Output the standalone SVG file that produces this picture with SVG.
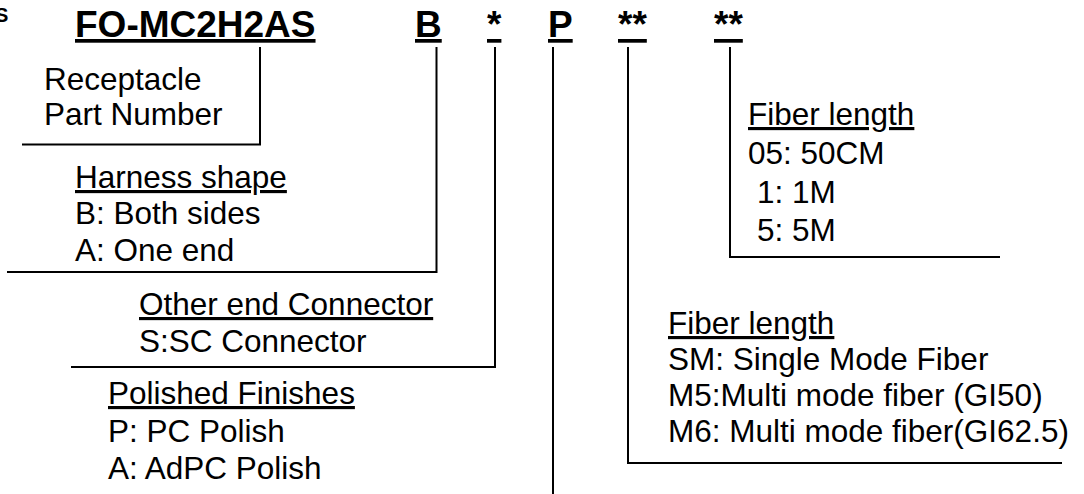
<svg xmlns="http://www.w3.org/2000/svg" width="1084" height="494" viewBox="0 0 1084 494">
<style>
text{font-family:"Liberation Sans",Arial,Helvetica,sans-serif;fill:#000}
.code{font-weight:bold;font-size:37px}
.lbl{font-size:31.5px}
.u{text-decoration:underline}
.ln{stroke:#000;stroke-width:2;fill:none}
</style>
<rect width="1084" height="494" fill="#fff"/>
<g id="fragment"><text x="-5" y="22" style="font-weight:bold;font-size:20px">S</text></g>
<g id="code-title"><text class="code u" x="75" y="37">FO-MC2H2AS</text></g>
<g id="code-b"><text class="code u" x="415" y="37">B</text></g>
<g id="code-star"><text class="code u" x="487" y="37">*</text></g>
<g id="code-p"><text class="code u" x="548" y="37">P</text></g>
<g id="code-fiber"><text class="code u" x="618" y="37">**</text></g>
<g id="code-length"><text class="code u" x="714" y="37">**</text></g>
<g id="connectors">
<polyline class="ln" points="260,47 260,144.5 22,144.5"/>
<polyline class="ln" points="436.5,47 436.5,272 7,272"/>
<polyline class="ln" points="495,47 495,367 71,367"/>
<polyline class="ln" points="553,47 553,494"/>
<polyline class="ln" points="628,47 628,463 1062,463"/>
<polyline class="ln" points="730,47 730,257 1000,257"/>
</g>
<g id="receptacle">
<text class="lbl" x="44" y="90">Receptacle</text>
<text class="lbl" x="44" y="125">Part Number</text>
</g>
<g id="harness">
<text class="lbl u" x="75" y="188">Harness shape</text>
<text class="lbl" x="75" y="224">B: Both sides</text>
<text class="lbl" x="75" y="261">A: One end</text>
</g>
<g id="other-end">
<text class="lbl u" x="139" y="315">Other end Connector</text>
<text class="lbl" x="139" y="352">S:SC Connector</text>
</g>
<g id="polish">
<text class="lbl u" x="108" y="404">Polished Finishes</text>
<text class="lbl" x="108" y="442">P: PC Polish</text>
<text class="lbl" x="108" y="479">A: AdPC Polish</text>
</g>
<g id="fiber-type">
<text class="lbl u" x="668" y="334">Fiber length</text>
<text class="lbl" x="668" y="370">SM: Single Mode Fiber</text>
<text class="lbl" x="668" y="406">M5:Multi mode fiber (GI50)</text>
<text class="lbl" x="668" y="442">M6: Multi mode fiber(GI62.5)</text>
</g>
<g id="fiber-length">
<text class="lbl u" x="748" y="125">Fiber length</text>
<text class="lbl" x="748" y="164">05: 50CM</text>
<text class="lbl" x="757" y="203">1: 1M</text>
<text class="lbl" x="757" y="241">5: 5M</text>
</g>
</svg>
